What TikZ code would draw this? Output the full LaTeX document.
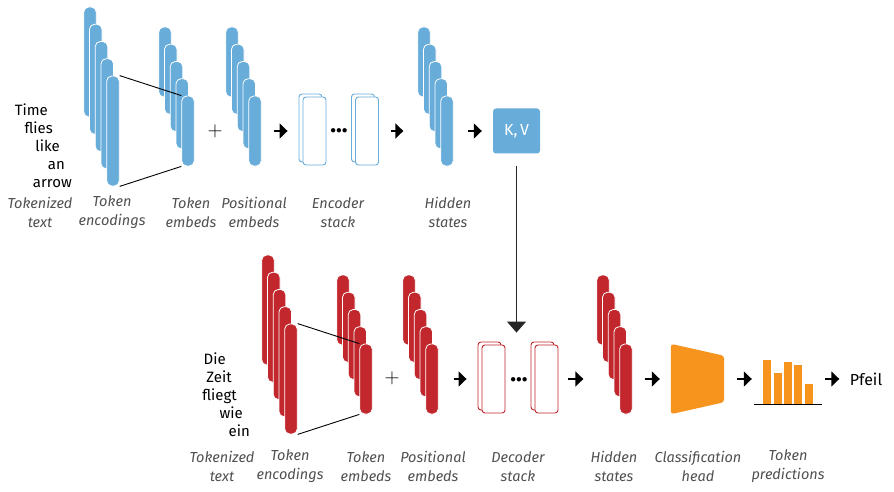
\documentclass[tikz,border=0pt]{standalone}
\usepackage{fontspec}
\setmainfont{Fira Sans}
\usetikzlibrary{arrows.meta,positioning}
\definecolor{encblue}{RGB}{104,172,218}
\definecolor{decred}{RGB}{193,39,45}
\definecolor{headorange}{RGB}{247,148,29}
\definecolor{labelgray}{RGB}{80,80,80}
\begin{document}
\begin{tikzpicture}[x=1pt, y=-1pt,
  bar/.style={rectangle, rounded corners=5pt, draw=white, line width=0.8pt, minimum width=12.5pt, inner sep=0pt},
  tbar/.style={bar, fill=encblue, minimum height=110pt},
  sbar/.style={bar, fill=encblue, minimum height=70pt},
  dtbar/.style={bar, fill=decred, minimum height=110pt},
  dsbar/.style={bar, fill=decred, minimum height=70pt},
  layer/.style={rectangle, rounded corners=3pt, draw=#1, fill=white, line width=0.9pt, minimum width=23pt, minimum height=68pt, inner sep=0pt},
  words/.style={font=\fontsize{15}{18}\selectfont, align=right, inner sep=0pt},
  caption/.style={font=\fontsize{14.5}{19}\selectfont\itshape, text=labelgray, align=center},
  sign/.style={font=\fontsize{22}{22}\selectfont, anchor=base, inner sep=0pt},
  dots/.style={font=\fontsize{24}{24}\selectfont\bfseries, anchor=base, inner sep=0pt},
  arr/.style={-{Triangle[length=8pt,width=15pt]}, line width=1.4pt},
  varr/.style={-{Triangle[length=11pt,width=19pt]}, line width=1.3pt, draw=black!85}]
\useasboundingbox (0,0) rectangle (894,492);

% encoder side
\node (src)[words, anchor=east] at (72,146) {Time\rule{24pt}{0pt}\\flies\rule{19pt}{0pt}\\like\rule{12pt}{0pt}\\an\rule{7pt}{0pt}\\arrow};
\node (te1)[tbar] at (90,62) {};
\node (te2)[tbar] at (95.75,79.25) {};
\node (te3)[tbar] at (101.5,96.5) {};
\node (te4)[tbar] at (107.25,113.75) {};
\node (te5)[tbar] at (113,131) {};
\node (tm1)[sbar] at (165,62) {};
\node (tm2)[sbar] at (170.75,79.25) {};
\node (tm3)[sbar] at (176.5,96.5) {};
\node (tm4)[sbar] at (182.25,113.75) {};
\node (tm5)[sbar] at (188,131) {};
\draw[line width=0.9pt] (te5.north east) -- (tm5.north west);
\draw[line width=0.9pt] (te5.south east) -- (tm5.south west);
\node (plus)[sign] at (215,136.5) {$+$};
\node (pe1)[sbar] at (232,62) {};
\node (pe2)[sbar] at (237.75,79.25) {};
\node (pe3)[sbar] at (243.5,96.5) {};
\node (pe4)[sbar] at (249.25,113.75) {};
\node (pe5)[sbar] at (255,131) {};
\node (enc1b)[layer=encblue] at (310.5,128) {};
\node (enc1)[layer=encblue] at (314.5,131) {};
\node (edots)[dots] at (339,133) {...};
\node (enc2b)[layer=encblue] at (363,128) {};
\node (enc2)[layer=encblue] at (367,131) {};
\node (hs1)[sbar] at (424,62) {};
\node (hs2)[sbar] at (429.75,79.25) {};
\node (hs3)[sbar] at (435.5,96.5) {};
\node (hs4)[sbar] at (441.25,113.75) {};
\node (hs5)[sbar] at (447,131) {};
\node (kv)[rectangle, rounded corners=3pt, fill=encblue, minimum width=47pt, minimum height=45pt, text=white, font=\fontsize{16}{16}\selectfont] at (516.5,131) {K,\,V};
\draw[arr, shorten <=12pt, shorten >=15pt] (pe5) -- (enc1);
\draw[arr, shorten <=12pt, shorten >=37pt] (enc2) -- (hs5);
\draw[arr, shorten <=14pt, shorten >=11pt] (hs5) -- (kv);

\node (c1)[caption] at (40,212.5) {Tokenized\\text};
\node (c2)[caption] at (112,212.5) {Token\\encodings};
\node (c3)[caption] at (191,212.5) {Token\\embeds};
\node (c4)[caption] at (254,212.5) {Positional\\embeds};
\node (c5)[caption] at (338,212.5) {Encoder\\stack};
\node (c6)[caption] at (448,212.5) {Hidden\\states};

% decoder side
\node (tgt)[words, anchor=east] at (250,395) {Die\rule{24pt}{0pt}\\Zeit\rule{18pt}{0pt}\\fliegt\rule{13pt}{0pt}\\wie\rule{7pt}{0pt}\\ein};
\node (dte1)[dtbar] at (268,310) {};
\node (dte2)[dtbar] at (273.75,327.25) {};
\node (dte3)[dtbar] at (279.5,344.5) {};
\node (dte4)[dtbar] at (285.25,361.75) {};
\node (dte5)[dtbar] at (291,379) {};
\node (dtm1)[dsbar] at (343,310) {};
\node (dtm2)[dsbar] at (348.75,327.25) {};
\node (dtm3)[dsbar] at (354.5,344.5) {};
\node (dtm4)[dsbar] at (360.25,361.75) {};
\node (dtm5)[dsbar] at (366,379) {};
\draw[line width=0.9pt] (dte5.north east) -- (dtm5.north west);
\draw[line width=0.9pt] (dte5.south east) -- (dtm5.south west);
\node (dplus)[sign] at (392,383.5) {$+$};
\node (dpe1)[dsbar] at (409,310) {};
\node (dpe2)[dsbar] at (414.75,327.25) {};
\node (dpe3)[dsbar] at (420.5,344.5) {};
\node (dpe4)[dsbar] at (426.25,361.75) {};
\node (dpe5)[dsbar] at (432,379) {};
\node (dec1b)[layer=decred] at (489.5,376) {};
\node (dec1)[layer=decred] at (493.5,379) {};
\node (ddots)[dots] at (519,381) {...};
\node (dec2b)[layer=decred] at (542.5,376) {};
\node (dec2)[layer=decred] at (546.5,379) {};
\node (dhs1)[dsbar] at (603,310) {};
\node (dhs2)[dsbar] at (608.75,327.25) {};
\node (dhs3)[dsbar] at (614.5,344.5) {};
\node (dhs4)[dsbar] at (620.25,361.75) {};
\node (dhs5)[dsbar] at (626,379) {};
\node (head)[minimum width=53pt, minimum height=70pt, inner sep=0pt] at (697.5,379) {};
\fill[headorange, rounded corners=3pt] (head.north west) -- ([yshift=-12pt]head.north east) -- ([yshift=12pt]head.south east) -- (head.south west) -- cycle;
\node (pred)[minimum width=68pt, minimum height=50pt, inner sep=0pt] at (788,379) {};
\fill[headorange] (763,360) rectangle (771,404);
\fill[headorange] (774,373) rectangle (782,404);
\fill[headorange] (784,362) rectangle (792,404);
\fill[headorange] (794,365) rectangle (802,404);
\fill[headorange] (805,384) rectangle (813,404);
\draw[line width=1pt] (pred.south west) -- (pred.south east);
\node (out)[font=\fontsize{16}{16}\selectfont] at (866,379) {Pfeil};
\draw[arr, shorten <=15pt, shorten >=15pt] (dpe5) -- (dec1);
\draw[arr, shorten <=10pt, shorten >=36pt] (dec2) -- (dhs5);
\draw[arr, shorten <=12pt, shorten >=11pt] (dhs5) -- (head);
\draw[arr, shorten <=13pt, shorten >=2pt] (head) -- (pred);
\draw[arr, shorten <=3pt, shorten >=7pt] (pred) -- (out);
\draw[varr, shorten <=12pt, shorten >=12pt] (kv.south) -- (kv.south |- dec1.north);

\node (d1)[caption] at (222,466.5) {Tokenized\\text};
\node (d2)[caption] at (290,466.5) {Token\\encodings};
\node (d3)[caption] at (366,466.5) {Token\\embeds};
\node (d4)[caption] at (433,466.5) {Positional\\embeds};
\node (d5)[caption] at (518,466.5) {Decoder\\stack};
\node (d6)[caption] at (614,466.5) {Hidden\\states};
\node (d7)[caption] at (698,466.5) {Classification\\head};
\node (d8)[caption] at (788,466.5) {Token\\predictions};
\end{tikzpicture}
\end{document}
